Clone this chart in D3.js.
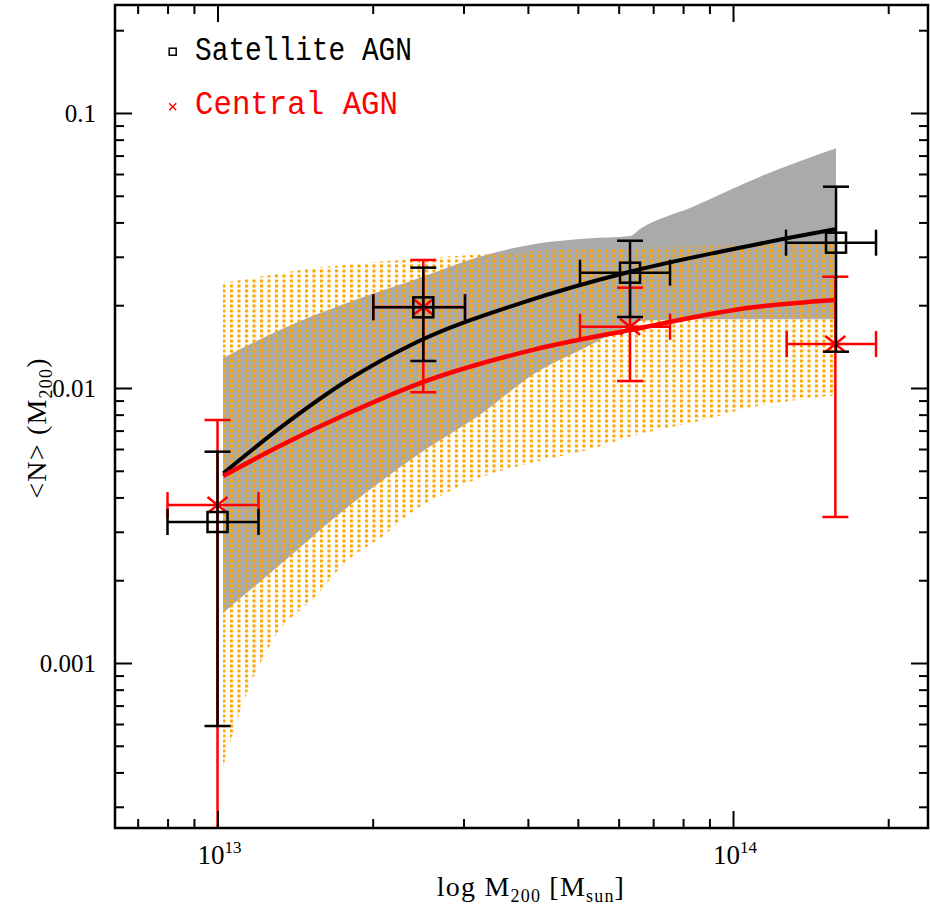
<!DOCTYPE html>
<html>
<head>
<meta charset="utf-8">
<script src="https://cdn.jsdelivr.net/npm/d3@7"></script>
<style>
  html, body { margin: 0; padding: 0; background: #fff; }
  svg { display: block; }
</style>
</head>
<body>
<script>
// Mean number of AGN per halo, <N>(M200), against halo mass.
// Masses are kept as log10(M200 / Msun); occupations as plain values.

// Satellite AGN measurements
const satLogM   = [13.0, 13.3992, 13.8002, 14.1998];
const satLogMLo = [12.903, 13.3022, 13.7032, 14.1028];
const satLogMHi = [13.0795, 13.4801, 13.8778, 14.2774];
const satN      = [0.003256, 0.01965, 0.02626, 0.03376];
const satNHi    = [0.005867, 0.02739, 0.03432, 0.05395];
const satNLo    = [0.000590, 0.01254, 0.01812, 0.01355];

// Central AGN measurements
const cenLogM   = [13.0, 13.3992, 13.8002, 14.1985];
const cenLogMLo = [12.903, 13.3022, 13.7032, 14.1041];
const cenLogMHi = [13.0795, 13.4801, 13.8778, 14.2774];
const cenN      = [0.003753, 0.0197, 0.0167, 0.01445];
const cenNHi    = [0.007648, 0.02921, 0.02316, 0.02539];
const cenNLo    = [0.0001, 0.00965, 0.0106, 0.003396];

// Best-fit occupation curves
const satFitLogM = [13.0113, 13.1245, 13.2532, 13.3831, 13.5868, 13.8002, 13.9748, 14.1042, 14.1979];
const satFitN    = [0.004896, 0.007234, 0.01069, 0.01458, 0.02032, 0.02648, 0.03130, 0.03503, 0.03777];
const cenFitLogM = [13.0107, 13.1245, 13.2537, 13.3831, 13.6159, 13.8002, 14.0388, 14.1979];
const cenFitN    = [0.004786, 0.006205, 0.008091, 0.01025, 0.01382, 0.01625, 0.01965, 0.02089];

// Satellite uncertainty band (grey)
const satBandLogM = [13.0107, 13.1251, 13.2532, 13.3831, 13.5131, 13.6159, 13.7168, 13.8002, 13.8196, 13.9224, 14.0524, 14.1998];
const satBandHi   = [0.01285, 0.01639, 0.02046, 0.02480, 0.03020, 0.03339, 0.03496, 0.03570, 0.03786, 0.04563, 0.05867, 0.07439];
const satBandLo   = [0.001520, 0.002310, 0.003702, 0.005626, 0.008091, 0.01131, 0.01413, 0.01695, 0.01752, 0.01777, 0.01777, 0.01777];

// Central uncertainty band (orange stipple)
const cenBandLogM = [13.0107, 13.0398, 13.1115, 13.1891, 13.2532, 13.3191, 13.3831, 13.4471, 13.5131, 13.6159, 13.7168, 13.8002, 13.9418, 14.0388, 14.1242, 14.1998];
const cenBandHi   = [0.02409, 0.02459, 0.02591, 0.02736, 0.02805, 0.02888, 0.02948, 0.03005, 0.03064, 0.03142, 0.03197, 0.03229, 0.03284, 0.03311, 0.03339, 0.03368];
const cenBandLo   = [0.0004196, 0.0006363, 0.001243, 0.001738, 0.002368, 0.002879, 0.003601, 0.004186, 0.004746, 0.005381, 0.005950, 0.006651, 0.007648, 0.008551, 0.009045, 0.009430];

// Axis ranges and labelled ticks
const xDomain = [6.326e12, 2.389e14];
const yDomain = [2.512e-4, 0.247];
const xMajorExp = [13, 14];
const yMajorTicks = [0.001, 0.01, 0.1];
const yMajorLabels = ["0.001", "0.01", "0.1"];
const legendLabels = ["Satellite AGN", "Central AGN"];

const W = 930, H = 913;
const L = 115, R = 928, T = 5, B = 828;
const BLACK = "#000", RED = "#ff0000", GREY = "#aaaaaa", ORANGE = "#ffa500";
const SERIF = "'Liberation Serif', 'Times New Roman', serif";
const MONO = "'Liberation Mono', 'Courier New', monospace";

const svg = d3.select("body").append("svg").attr("width", W).attr("height", H);
const defs = svg.append("defs");
defs.append("clipPath").attr("id", "plotClip")
  .append("rect").attr("x", L).attr("y", T).attr("width", R - L).attr("height", B - T);
const pat = defs.append("pattern").attr("id", "orangeDots")
  .attr("patternUnits", "userSpaceOnUse")
  .attr("x", 222.5).attr("y", 279.5).attr("width", 7.5).attr("height", 5);
pat.append("rect").attr("width", 3).attr("height", 3).attr("fill", ORANGE);

const x = d3.scaleLog().domain(xDomain).range([L, R]);
const y = d3.scaleLog().domain(yDomain).range([B, T]);
const M = v => Math.pow(10, v);

const plot = svg.append("g").attr("clip-path", "url(#plotClip)");

// Uncertainty bands
const bandArea = (lm, lo, hi) => d3.area()
  .x((d, i) => x(M(lm[i]))).y0((d, i) => y(lo[i])).y1((d, i) => y(hi[i]))
  .curve(d3.curveMonotoneX)(lm);
plot.append("path").attr("d", bandArea(satBandLogM, satBandLo, satBandHi)).attr("fill", GREY);
plot.append("path").attr("d", bandArea(cenBandLogM, cenBandLo, cenBandHi)).attr("fill", "url(#orangeDots)");

// Error bars with end caps
const CAP = 13;
function errorBars(lm, lmLo, lmHi, n, nLo, nHi, color) {
  const g = plot.append("g").attr("stroke", color).attr("stroke-width", 2.5).attr("fill", "none");
  lm.forEach((v, i) => {
    const cx = x(M(v)), cy = y(n[i]);
    const yl = y(nLo[i]), yh = y(nHi[i]);
    const xl = x(M(lmLo[i])), xh = x(M(lmHi[i]));
    g.append("line").attr("x1", cx).attr("x2", cx).attr("y1", yl).attr("y2", yh);
    g.append("line").attr("x1", cx - CAP).attr("x2", cx + CAP).attr("y1", yh).attr("y2", yh);
    g.append("line").attr("x1", cx - CAP).attr("x2", cx + CAP).attr("y1", yl).attr("y2", yl);
    g.append("line").attr("x1", xl).attr("x2", xh).attr("y1", cy).attr("y2", cy);
    g.append("line").attr("x1", xl).attr("x2", xl).attr("y1", cy - CAP).attr("y2", cy + CAP);
    g.append("line").attr("x1", xh).attr("x2", xh).attr("y1", cy - CAP).attr("y2", cy + CAP);
  });
  return g;
}

const gCen = errorBars(cenLogM, cenLogMLo, cenLogMHi, cenN, cenNLo, cenNHi, RED);
cenLogM.forEach((v, i) => {
  const cx = x(M(v)), cy = y(cenN[i]);
  gCen.append("path").attr("d", `M${cx - 10},${cy - 8}L${cx + 10},${cy + 8}M${cx - 10},${cy + 8}L${cx + 10},${cy - 8}`);
});

const gSat = errorBars(satLogM, satLogMLo, satLogMHi, satN, satNLo, satNHi, BLACK);
satLogM.forEach((v, i) => {
  const cx = x(M(v)), cy = y(satN[i]);
  gSat.append("rect").attr("x", cx - 10).attr("y", cy - 10).attr("width", 20).attr("height", 20);
});

// Fit curves
const fitLine = (lm, n) => d3.line()
  .x((d, i) => x(M(lm[i]))).y((d, i) => y(n[i]))
  .curve(d3.curveMonotoneX)(lm);
plot.append("path").attr("d", fitLine(satFitLogM, satFitN))
  .attr("fill", "none").attr("stroke", BLACK).attr("stroke-width", 4);
plot.append("path").attr("d", fitLine(cenFitLogM, cenFitN))
  .attr("fill", "none").attr("stroke", RED).attr("stroke-width", 4.5);

// Frame and inward ticks on all four sides
const xMinor = [], yMinor = [];
for (let e = 12; e <= 14; e++) for (let k = 2; k <= 9; k++) {
  const v = k * Math.pow(10, e);
  if (v > xDomain[0] && v < xDomain[1]) xMinor.push(v);
}
for (let e = -4; e <= -1; e++) for (let k = 2; k <= 9; k++) {
  const v = k * Math.pow(10, e);
  if (v > yDomain[0] && v < yDomain[1]) yMinor.push(v);
}
const xMajor = xMajorExp.map(e => Math.pow(10, e));

function tickAxis(axisFn, scale, vals, len, tr) {
  const g = svg.append("g").attr("transform", tr)
    .call(axisFn(scale).tickValues(vals).tickSize(-len).tickFormat(""));
  g.select(".domain").remove();
  g.selectAll(".tick line").attr("stroke", BLACK).attr("stroke-width", 2);
}
const MAJ = 17, MIN = 9;
tickAxis(d3.axisBottom, x, xMajor, MAJ, `translate(0,${B})`);
tickAxis(d3.axisBottom, x, xMinor, MIN, `translate(0,${B})`);
tickAxis(d3.axisTop, x, xMajor, MAJ, `translate(0,${T})`);
tickAxis(d3.axisTop, x, xMinor, MIN, `translate(0,${T})`);
tickAxis(d3.axisLeft, y, yMajorTicks, MAJ, `translate(${L},0)`);
tickAxis(d3.axisLeft, y, yMinor, MIN, `translate(${L},0)`);
tickAxis(d3.axisRight, y, yMajorTicks, MAJ, `translate(${R},0)`);
tickAxis(d3.axisRight, y, yMinor, MIN, `translate(${R},0)`);

svg.append("rect").attr("x", L).attr("y", T).attr("width", R - L).attr("height", B - T)
  .attr("fill", "none").attr("stroke", BLACK).attr("stroke-width", 2.5);

// Tick labels
yMajorTicks.forEach((v, i) => {
  svg.append("text").attr("x", 96).attr("y", y(v)).attr("dy", "0.35em")
    .attr("text-anchor", "end").attr("font-family", SERIF).attr("font-size", 25)
    .text(yMajorLabels[i]);
});
xMajorExp.forEach(e => {
  const t = svg.append("text").attr("x", x(Math.pow(10, e)) + 2).attr("y", 864)
    .attr("text-anchor", "middle").attr("font-family", SERIF).attr("font-size", 27);
  t.append("tspan").text("10");
  t.append("tspan").attr("dy", -11).attr("font-size", 17).text(String(e));
});

// Axis titles
const xt = svg.append("text").attr("x", 531).attr("y", 896).attr("text-anchor", "middle")
  .attr("font-family", SERIF).attr("font-size", 28).attr("letter-spacing", 1.2);
xt.append("tspan").text("log M");
xt.append("tspan").attr("dy", 6).attr("font-size", 18).text("200");
xt.append("tspan").attr("dy", -6).text(" [M");
xt.append("tspan").attr("dy", 6).attr("font-size", 18).text("sun");
xt.append("tspan").attr("dy", -6).text("]");

const yt = svg.append("text").attr("transform", "translate(46,428) rotate(-90)")
  .attr("text-anchor", "middle").attr("font-family", SERIF).attr("font-size", 28)
  .attr("letter-spacing", 1.2);
yt.append("tspan").text("<N> (M");
yt.append("tspan").attr("dy", 6).attr("font-size", 18).text("200");
yt.append("tspan").attr("dy", -6).text(")");

// Legend
svg.append("rect").attr("x", 169.2).attr("y", 48.2).attr("width", 7).attr("height", 7)
  .attr("fill", "none").attr("stroke", BLACK).attr("stroke-width", 1.5);
svg.append("text").attr("x", 195).attr("y", 59.5).attr("font-family", MONO).attr("font-size", 33)
  .attr("textLength", 217).attr("lengthAdjust", "spacingAndGlyphs").attr("fill", BLACK)
  .text(legendLabels[0]);
svg.append("path").attr("d", "M169.2,103.2L176.2,110.2M169.2,110.2L176.2,103.2")
  .attr("stroke", RED).attr("stroke-width", 1.5);
svg.append("text").attr("x", 195).attr("y", 113.5).attr("font-family", MONO).attr("font-size", 33)
  .attr("textLength", 203).attr("lengthAdjust", "spacingAndGlyphs").attr("fill", RED)
  .text(legendLabels[1]);
</script>
</body>
</html>
